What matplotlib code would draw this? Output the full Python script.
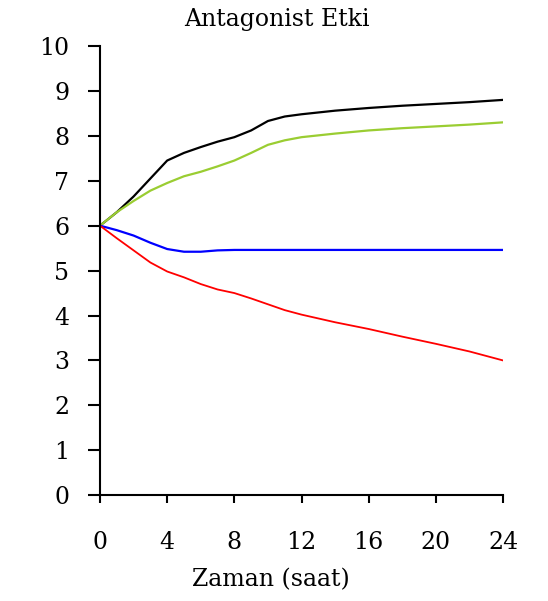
import matplotlib.pyplot as plt

# time (hours)
hours = [0, 1, 2, 3, 4, 5, 6, 7, 8, 9, 10, 11, 12, 14, 16, 18, 20, 22, 24]

black = [6.0, 6.3, 6.65, 7.05, 7.45, 7.62, 7.75, 7.87, 7.97, 8.12, 8.33, 8.43, 8.48,
         8.56, 8.62, 8.67, 8.71, 8.75, 8.8]
green = [6.0, 6.3, 6.55, 6.78, 6.95, 7.1, 7.2, 7.32, 7.45, 7.62, 7.8, 7.9, 7.97,
         8.05, 8.12, 8.17, 8.21, 8.25, 8.3]
blue = [6.0, 5.9, 5.78, 5.62, 5.48, 5.42, 5.42, 5.45, 5.46, 5.46, 5.46, 5.46, 5.46,
        5.46, 5.46, 5.46, 5.46, 5.46, 5.46]
red = [6.0, 5.72, 5.45, 5.18, 4.98, 4.85, 4.7, 4.58, 4.5, 4.38, 4.25, 4.12, 4.02,
       3.85, 3.7, 3.53, 3.37, 3.2, 3.0]

xticks = [0, 4, 8, 12, 16, 20, 24]
yticks = list(range(0, 11))

plt.rcParams['font.family'] = 'DejaVu Serif'

fig = plt.figure(figsize=(5.48, 6.01), dpi=100)
ax = fig.add_axes([0.1825, 0.176, 0.7355, 0.7475])

ax.plot(hours, black, color='black', lw=1.6)
ax.plot(hours, green, color='#9ACD32', lw=1.6)
ax.plot(hours, blue, color='#0000FF', lw=1.6)
ax.plot(hours, red, color='#FF0000', lw=1.3)

ax.set_xlim(0, 24)
ax.set_ylim(0, 10)
ax.set_xticks(xticks)
ax.set_yticks(yticks)

for s in ['top', 'right']:
    ax.spines[s].set_visible(False)
for s in ['left', 'bottom']:
    ax.spines[s].set_linewidth(1.5)

ax.tick_params(axis='y', direction='out', length=9, width=1.5, labelsize=17, pad=13)
ax.tick_params(axis='x', direction='out', length=6, width=1.5, labelsize=17, pad=20)

fig.text(0.505, 0.968, 'Antagonist Etki', ha='center', va='center', fontsize=17)
fig.text(0.495, 0.035, 'Zaman (saat)', ha='center', va='center', fontsize=17)

fig.savefig('out.png', dpi=100)
